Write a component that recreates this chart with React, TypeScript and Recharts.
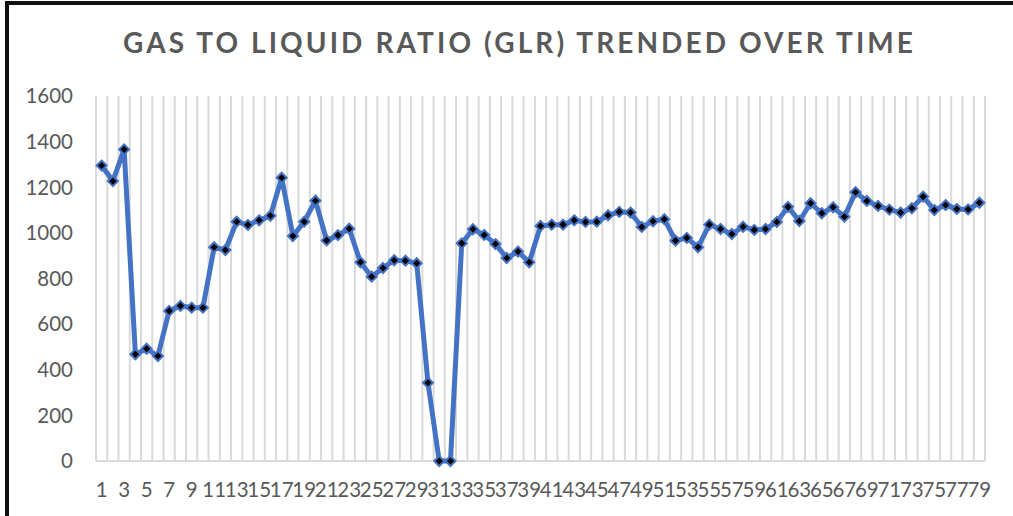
import { LineChart, Line, XAxis, YAxis, ReferenceLine } from 'recharts'

// GLR reading per period
const glr = [
  1295, 1227, 1366, 468, 492, 460, 658, 680, 672, 672,
  937, 925, 1049, 1035, 1055, 1075, 1242, 986, 1049, 1141,
  967, 990, 1018, 871, 808, 846, 880, 878, 867, 343,
  0, 0, 954, 1016, 991, 951, 890, 918, 871, 1030,
  1036, 1036, 1055, 1048, 1049, 1077, 1092, 1089, 1026, 1051,
  1060, 966, 978, 937, 1036, 1017, 995, 1027, 1013, 1017,
  1048, 1114, 1052, 1130, 1086, 1112, 1071, 1178, 1140, 1118,
  1102, 1089, 1108, 1159, 1100, 1122, 1105, 1103, 1132,
]

const xTicks = [
  1, 3, 5, 7, 9, 11, 13, 15, 17, 19, 21, 23, 25, 27, 29, 31, 33, 35, 37, 39,
  41, 43, 45, 47, 49, 51, 53, 55, 57, 59, 61, 63, 65, 67, 69, 71, 73, 75, 77, 79,
]
const yTicks = [0, 200, 400, 600, 800, 1000, 1200, 1400, 1600]

const BLUE = '#4472C4'
const GRID = '#d9d9d9'
const TEXT = '#595959'
const FONT = 'Lato, "Open Sans", sans-serif'

const data = glr.map((v, i) => ({ period: i + 1, glr: v }))
// category boundaries, drawn as the vertical grid
const boundaries = [...glr.map((_, i) => i + 0.5), glr.length + 0.5]

// black diamond marker with a blue edge
function Diamond(props: { cx?: number; cy?: number; index?: number }) {
  const { cx, cy, index } = props
  if (cx == null || cy == null) return null
  const r = 5
  return (
    <path
      key={index}
      d={`M${cx},${cy - r}L${cx + r},${cy}L${cx},${cy + r}L${cx - r},${cy}Z`}
      fill="#000"
      stroke={BLUE}
      strokeWidth={2}
    />
  )
}

export default function App() {
  return (
    <div style={{ position: 'fixed', left: 0, top: 0, width: 1013, height: 516, background: '#fff', fontFamily: FONT }}>
      <div style={{ position: 'absolute', left: 5, top: 1, width: 1008, height: 4, background: '#111' }} />
      <div style={{ position: 'absolute', left: 5, top: 1, width: 4, height: 515, background: '#111' }} />
      <div
        style={{
          position: 'absolute', left: 0, width: 1039, top: 24, textAlign: 'center',
          fontSize: 28, fontWeight: 700, letterSpacing: 3.1, color: TEXT, lineHeight: '36px',
        }}
      >
        GAS TO LIQUID RATIO (GLR) TRENDED OVER TIME
      </div>
      <LineChart width={1013} height={516} data={data} margin={{ top: 96, right: 28, bottom: 15, left: 26 }}>
        <XAxis
          dataKey="period"
          type="number"
          domain={[0.5, glr.length + 0.5]}
          ticks={xTicks}
          interval={0}
          tickLine={false}
          tickSize={0}
          tickMargin={21}
          height={40}
          axisLine={{ stroke: GRID, strokeWidth: 2 }}
          tick={{ fill: TEXT, fontSize: 20.5, fontFamily: FONT }}
        />
        <YAxis
          domain={[0, 1600]}
          ticks={yTicks}
          width={70}
          axisLine={false}
          tickLine={false}
          tickSize={0}
          tickMargin={23}
          tick={{ fill: TEXT, fontSize: 20.5, fontFamily: FONT }}
        />
        {boundaries.map(b => (
          <ReferenceLine key={b} x={b} stroke={GRID} strokeWidth={2} />
        ))}
        <Line
          type="linear"
          dataKey="glr"
          stroke={BLUE}
          strokeWidth={5}
          dot={Diamond}
          activeDot={false}
          isAnimationActive={false}
        />
      </LineChart>
    </div>
  )
}
